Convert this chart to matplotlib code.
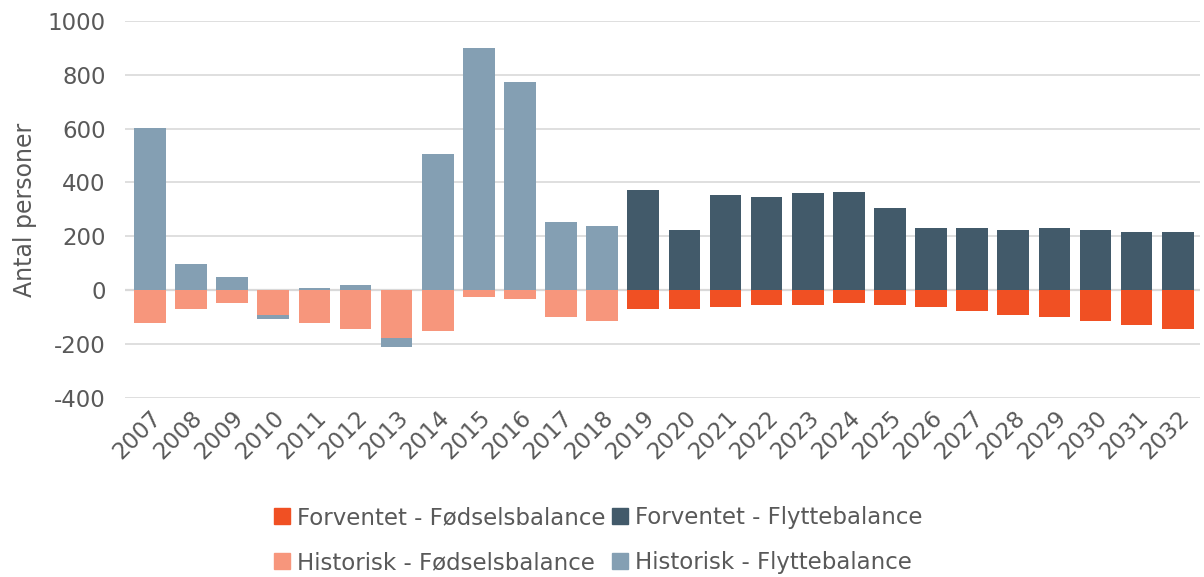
import numpy as np
import matplotlib.pyplot as plt
from matplotlib.patches import Patch

# ===============================
# Data
# ===============================
years = [str(y) for y in range(2007, 2033)]

hist_foedsel = [-121, -71, -48, -93, -121, -145, -176, -152, -26, -34, -100, -115]
hist_flytte = [602, 97, 48, -15, 10, 18, -35, 506, 898, 773, 253, 238]

forv_foedsel = [-71, -71, -63, -54, -54, -48, -54, -63, -78, -92, -100, -115, -129, -144]
forv_flytte = [373, 223, 353, 345, 360, 366, 307, 233, 233, 225, 233, 225, 218, 218]

C_FORV_FOED = "#F05023"
C_FORV_FLYT = "#425A6A"
C_HIST_FOED = "#F7967C"
C_HIST_FLYT = "#849FB3"
TXT = "#595959"

plt.rcParams["font.family"] = ["DejaVu Sans"]
plt.rcParams["axes.unicode_minus"] = False

fig = plt.figure(figsize=(12.04, 5.77), dpi=100)
ax = fig.add_axes([0.104, 0.310, 0.893, 0.654])

n_hist = len(hist_foedsel)
x = np.arange(len(years))
xh = x[:n_hist]
xf = x[n_hist:]
w = 0.77

# fødselsbalance is always negative and sits next to the axis;
# flyttebalance stacks on top of it when negative, else starts at 0
hf = np.array(hist_foedsel)
hfl = np.array(hist_flytte)
hist_bottom = np.where(hfl < 0, hf, 0)

ax.bar(xh, hf, w, color=C_HIST_FOED, zorder=3)
ax.bar(xh, hfl, w, bottom=hist_bottom, color=C_HIST_FLYT, zorder=3)
ax.bar(xf, forv_foedsel, w, color=C_FORV_FOED, zorder=3)
ax.bar(xf, forv_flytte, w, color=C_FORV_FLYT, zorder=3)

ax.set_ylim(-400, 1000)
ax.set_xlim(-0.6, len(years) - 0.45)
ax.set_yticks(range(-400, 1001, 200))
ax.grid(axis="y", color="#D9D9D9", linewidth=1.2, zorder=0)
ax.axhline(0, color="#D9D9D9", linewidth=1.6, zorder=2)
for s in ax.spines.values():
    s.set_visible(False)

ax.set_xticks(x)
ax.set_xticklabels(years, rotation=45, ha="right", rotation_mode="anchor")
ax.tick_params(axis="both", length=0, labelsize=16.5, labelcolor=TXT)
ax.tick_params(axis="y", pad=14)
ax.tick_params(axis="x", pad=6)
ax.set_ylabel("Antal personer", fontsize=17, color=TXT, labelpad=8)

handles = [
    Patch(color=C_FORV_FOED, label="Forventet - Fødselsbalance"),
    Patch(color=C_HIST_FOED, label="Historisk - Fødselsbalance"),
    Patch(color=C_FORV_FLYT, label="Forventet - Flyttebalance"),
    Patch(color=C_HIST_FLYT, label="Historisk - Flyttebalance"),
]
leg = fig.legend(handles=handles, ncol=2, loc="center", bbox_to_anchor=(0.497, 0.064),
                 frameon=False, fontsize=16.5, handlelength=0.7, handleheight=0.7,
                 handletextpad=0.3, columnspacing=0.3, labelspacing=0.95)
for t in leg.get_texts():
    t.set_color(TXT)

fig.savefig("out.png", dpi=100)
